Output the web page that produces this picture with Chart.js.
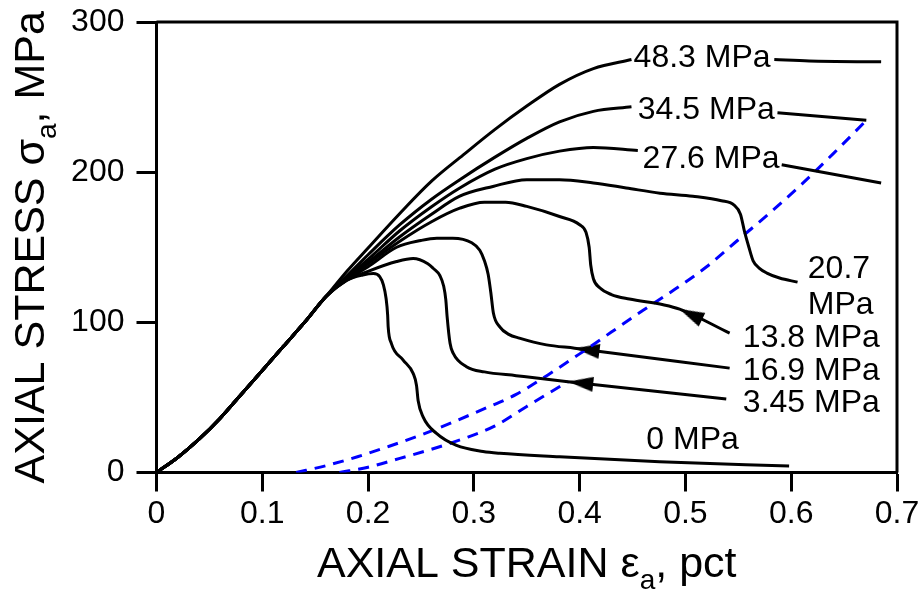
<!DOCTYPE html>
<html>
<head>
<meta charset="utf-8">
<script src="https://cdn.jsdelivr.net/npm/chart.js@4.4.1/dist/chart.umd.min.js"></script>
<style>
  html, body { margin: 0; padding: 0; background: #fff; }
</style>
</head>
<body>
<canvas id="chart" width="922" height="591"></canvas>
<script>
var fontFamily = "'Liberation Sans', Arial, sans-serif";

var xTickLabels = ['0', '0.1', '0.2', '0.3', '0.4', '0.5', '0.6', '0.7'];
var yTickLabels = ['0', '100', '200', '300'];

// loading branch shared by every curve
var baseX = [0, 0.02, 0.04, 0.06, 0.08, 0.10, 0.12, 0.14, 0.16];
var baseY = [0, 10, 22, 36, 52, 68, 84, 100, 117];

// 48.3 MPa (null = gap behind the label)
var x483 = [0.18, 0.20, 0.23, 0.26, 0.29, 0.32, 0.35, 0.381, 0.413, 0.449, 0.52, 0.584, 0.617, 0.685];
var y483 = [134, 149.5, 172.5, 194, 211.5, 228.5, 244, 258.5, 269, 275, null, 275, 274, 273.5];

// 34.5 MPa
var x345 = [0.18, 0.20, 0.23, 0.26, 0.2867, 0.32, 0.35, 0.381, 0.413, 0.449, 0.52, 0.587, 0.671];
var y345 = [131, 145, 165, 182, 195, 210, 222.5, 233.5, 240.5, 243.5, null, 239.5, 234.5];

// 27.6 MPa
var x276 = [0.18, 0.20, 0.23, 0.26, 0.2867, 0.32, 0.35, 0.381, 0.413, 0.455, 0.52, 0.591, 0.685];
var y276 = [130, 142, 161, 177, 189.5, 202, 209, 214, 216.5, 214.5, null, 205, 192.8];

// 20.7 MPa
var x207 = [0.18, 0.20, 0.23, 0.26, 0.2867, 0.318, 0.35, 0.381, 0.413, 0.444, 0.476, 0.507, 0.534,
            0.546, 0.552, 0.556, 0.56, 0.564, 0.570, 0.577, 0.589, 0.606];
var y207 = [129.5, 140, 157, 172, 184, 190.5, 195, 195, 192.8, 189.5, 186, 184, 181,
            178, 172, 160, 150, 141, 136, 132.8, 129.5, 126.8];

// 13.8 MPa
var x138 = [0.18, 0.20, 0.23, 0.26, 0.2867, 0.31, 0.33, 0.35, 0.381, 0.40, 0.406, 0.409, 0.4105,
            0.413, 0.419, 0.43, 0.447, 0.479, 0.4945, 0.5418];
var y138 = [129, 139, 154, 167, 176, 180, 180, 177.2, 170.5, 165, 160, 150, 138,
            129, 123, 118.5, 115.5, 111.7, 108.8, 92.8];

// 16.9 MPa
var x169 = [0.18, 0.20, 0.227, 0.25, 0.265, 0.28, 0.298, 0.3056, 0.31, 0.3135, 0.316, 0.3185,
            0.3245, 0.333, 0.343, 0.3686, 0.3953, 0.5418];
var y169 = [128.5, 137, 150, 154.5, 156, 156, 153, 148, 141, 132, 120, 106,
            97, 92, 89.5, 85, 82.8, 69.5];

// 3.45 MPa
var x3p45 = [0.18, 0.20, 0.227, 0.2426, 0.2565, 0.2615, 0.268, 0.2715, 0.2735, 0.2747, 0.2775,
             0.2804, 0.293, 0.31, 0.34, 0.389, 0.5386];
var y3p45 = [128, 134, 140.5, 142.5, 139, 136, 131, 124, 115, 104, 86,
             79.5, 70.5, 67, 64.5, 60.5, 49];

// 0 MPa
var x0 = [0.18, 0.195, 0.205, 0.211, 0.2145, 0.217, 0.2185, 0.219, 0.222, 0.233, 0.2426, 0.2458,
          0.2473, 0.252, 0.2647, 0.2836, 0.3087, 0.3245, 0.381, 0.4756, 0.598];
var y0 = [128, 131.5, 132.5, 130.5, 125, 116, 105, 97, 86, 75, 66, 58,
          48, 37, 26, 18, 14, 12.8, 10.5, 7.2, 4.3];

// blue dashed curves
var dashUpX = [0.132, 0.16, 0.19, 0.22, 0.25, 0.28, 0.31, 0.34, 0.37, 0.40, 0.43, 0.46, 0.49,
               0.52, 0.55, 0.58, 0.61, 0.64, 0.671];
var dashUpY = [0, 4.5, 10.5, 17.5, 25, 33.5, 42.5, 52, 65, 79, 93.5, 108, 122,
               137, 155, 173, 192, 212.5, 234.5];
var dashLowX = [0.173, 0.20, 0.23, 0.26, 0.29, 0.32, 0.35, 0.37, 0.389];
var dashLowY = [0, 3.5, 9.4, 15.5, 22.5, 31, 44, 52.5, 60.5];

// arrow heads on the 13.8, 16.9 and 3.45 MPa curves
var arrowX = [0.505, 0.407, 0.401];
var arrowY = [105.3, 81.7, 59.6];
var arrowAngle = [25.6, 7.4, 6.2];

// curve labels
var labelText = ['48.3 MPa', '34.5 MPa', '27.6 MPa', '20.7', 'MPa', '13.8 MPa', '16.9 MPa', '3.45 MPa', '0 MPa'];
var labelX = [0.451, 0.455, 0.4595, 0.6157, 0.6157, 0.5543, 0.5543, 0.5543, 0.463];
var labelY = [276, 241.5, 208.5, 135.5, 111.5, 89.5, 67.2, 46.3, 21.7];

function toPoints(xs, ys) {
    return xs.map(function (x, i) { return { x: x, y: ys[i] }; });
}

function curve(xs, ys) {
    return {
        data: toPoints(baseX.concat(xs), baseY.concat(ys)),
        borderColor: '#000',
        borderWidth: 3,
        pointRadius: 0,
        cubicInterpolationMode: 'monotone',
        fill: false
    };
}

function dashed(xs, ys) {
    return {
        data: toPoints(xs, ys),
        borderColor: '#0000ff',
        borderWidth: 3,
        borderDash: [11, 8],
        pointRadius: 0,
        cubicInterpolationMode: 'monotone',
        fill: false
    };
}

var arrowImg = document.createElement('canvas');
arrowImg.width = 25;
arrowImg.height = 15;
var actx = arrowImg.getContext('2d');
actx.fillStyle = '#000';
actx.beginPath();
actx.moveTo(0, 7.5);
actx.lineTo(25, 0);
actx.lineTo(25, 15);
actx.closePath();
actx.fill();

function drawTitle(ctx, parts, cx, y) {
    var big = '43px ' + fontFamily, small = '28px ' + fontFamily;
    ctx.textAlign = 'left';
    ctx.textBaseline = 'alphabetic';
    ctx.font = big;
    var w0 = ctx.measureText(parts[0]).width, w2 = ctx.measureText(parts[2]).width;
    ctx.font = small;
    var w1 = ctx.measureText(parts[1]).width;
    var x = cx - (w0 + w1 + w2) / 2;
    ctx.font = big;
    ctx.fillText(parts[0], x, y);
    ctx.font = small;
    ctx.fillText(parts[1], x + w0, y + 12);
    ctx.font = big;
    ctx.fillText(parts[2], x + w0 + w1, y);
}

var frameAndText = {
    id: 'frameAndText',
    afterDraw: function (chart) {
        var ctx = chart.ctx, a = chart.chartArea;
        var sx = chart.scales.x, sy = chart.scales.y;
        ctx.save();
        ctx.strokeStyle = '#000';
        ctx.lineWidth = 3;
        ctx.beginPath();
        ctx.moveTo(a.left, a.top);
        ctx.lineTo(a.right, a.top);
        ctx.lineTo(a.right, a.bottom);
        ctx.stroke();

        ctx.fillStyle = '#000';
        ctx.font = '32px ' + fontFamily;
        ctx.textAlign = 'left';
        ctx.textBaseline = 'middle';
        labelText.forEach(function (t, i) {
            ctx.fillText(t, sx.getPixelForValue(labelX[i]), sy.getPixelForValue(labelY[i]));
        });

        drawTitle(ctx, ['AXIAL STRAIN \u03b5', 'a', ', pct'], (a.left + a.right) / 2, a.bottom + 104);
        ctx.translate(43.5, (a.top + a.bottom) / 2);
        ctx.rotate(-Math.PI / 2);
        drawTitle(ctx, ['AXIAL STRESS \u03c3', 'a', ', MPa'], 0, 0);
        ctx.restore();
    }
};

Chart.defaults.font.family = fontFamily;
Chart.defaults.color = '#000';

var datasets = [
    curve(x483, y483), curve(x345, y345), curve(x276, y276), curve(x207, y207),
    curve(x138, y138), curve(x169, y169), curve(x3p45, y3p45), curve(x0, y0),
    dashed(dashUpX, dashUpY), dashed(dashLowX, dashLowY),
    {
        type: 'scatter',
        data: toPoints(arrowX, arrowY),
        showLine: false,
        pointStyle: arrowImg,
        pointRotation: arrowAngle,
        pointRadius: 10
    }
];

new Chart(document.getElementById('chart'), {
    type: 'line',
    data: { datasets: datasets },
    options: {
        responsive: false,
        animation: false,
        events: [],
        layout: { padding: { top: 22, right: 25 } },
        plugins: { legend: { display: false }, tooltip: { enabled: false } },
        scales: {
            x: {
                type: 'linear',
                min: 0, max: 0.7,
                afterFit: function (scale) {
                    scale.height = 118.5;
                    scale.paddingLeft = 0;
                    scale.paddingRight = 0;
                },
                border: { display: true, color: '#000', width: 3 },
                grid: { drawOnChartArea: false, drawTicks: true, tickLength: 19, tickWidth: 3, tickColor: '#000' },
                ticks: {
                    stepSize: 0.1, padding: 3, maxRotation: 0, autoSkip: false,
                    font: { size: 32 },
                    callback: function (v) { return xTickLabels[Math.round(v * 10)]; }
                }
            },
            y: {
                min: 0, max: 300,
                afterFit: function (scale) {
                    scale.width = 156.5;
                    scale.paddingTop = 0;
                    scale.paddingBottom = 0;
                },
                border: { display: true, color: '#000', width: 3 },
                grid: { drawOnChartArea: false, drawTicks: true, tickLength: 20, tickWidth: 3, tickColor: '#000' },
                ticks: {
                    stepSize: 100, padding: 12,
                    font: { size: 32 },
                    callback: function (v) { return yTickLabels[Math.round(v / 100)]; }
                }
            }
        }
    },
    plugins: [frameAndText]
});
</script>
</body>
</html>
